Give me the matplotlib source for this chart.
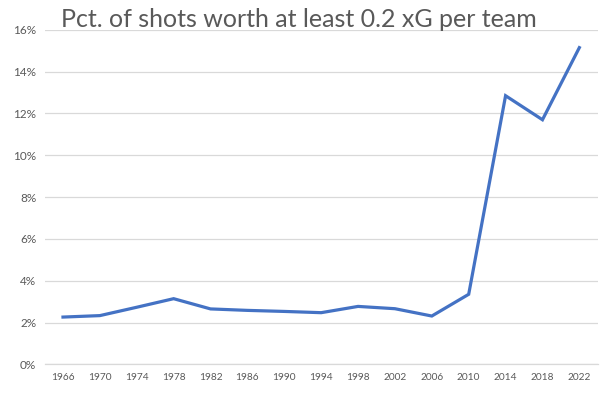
import matplotlib.pyplot as plt
from matplotlib.ticker import PercentFormatter

# World Cup years and share of shots >= 0.2 xG (in %)
years = ['1966', '1970', '1974', '1978', '1982', '1986', '1990', '1994',
         '1998', '2002', '2006', '2010', '2014', '2018', '2022']
pct = [2.26, 2.33, 2.73, 3.14, 2.65, 2.58, 2.53, 2.47,
       2.77, 2.66, 2.31, 3.35, 12.85, 11.7, 15.15]

y_ticks = [0, 2, 4, 6, 8, 10, 12, 14, 16]

plt.rcParams['font.family'] = ['Lato', 'DejaVu Sans']

fig = plt.figure(figsize=(6.02, 3.93), dpi=100)
ax = fig.add_axes([0.074, 0.073, 0.919, 0.851])

x = list(range(len(years)))
ax.plot(x, pct, color='#4472C4', lw=2.3, solid_joinstyle='miter')

ax.set_xlim(-0.5, len(years) - 0.5)
ax.set_ylim(0, 16)
ax.set_yticks(y_ticks)
ax.yaxis.set_major_formatter(PercentFormatter(decimals=0))
ax.set_xticks(x)
ax.set_xticklabels(years)

ax.grid(axis='y', color='#D9D9D9', lw=0.9)
ax.set_axisbelow(True)
for s in ['top', 'right', 'left']:
    ax.spines[s].set_visible(False)
ax.spines['bottom'].set_color('#D9D9D9')
ax.spines['bottom'].set_linewidth(0.9)
ax.tick_params(axis='both', length=0, colors='#595959')
ax.tick_params(axis='y', labelsize=8.5, pad=6)
ax.tick_params(axis='x', labelsize=7.3, pad=6)

fig.text(0.102, 0.931, 'Pct. of shots worth at least 0.2 xG per team',
         fontsize=18, color='#595959', ha='left', va='baseline')

fig.savefig('out.png', dpi=100)
